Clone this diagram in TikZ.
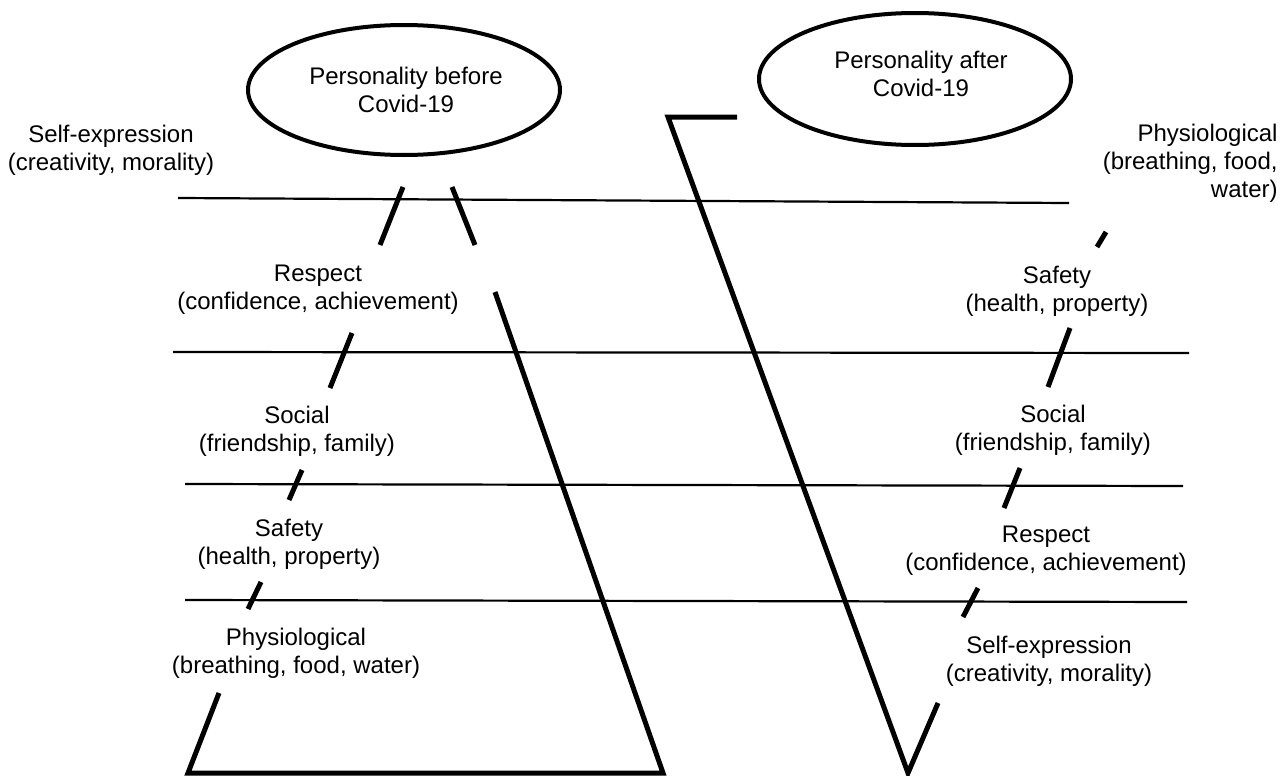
\documentclass[tikz,border=0pt]{standalone}
\usepackage{fontspec}
\setmainfont{Liberation Sans}
\usetikzlibrary{shapes.geometric}
\begin{document}
\begin{tikzpicture}[x=0.5pt,y=-0.5pt,
  lbl/.style={align=center, font=\fontsize{12}{14}\selectfont, inner sep=0pt},
  hline/.style={line width=1.1pt},
  bold/.style={line width=2.5pt},
  oval/.style={draw, ellipse, line width=2pt, inner sep=0pt}]
\useasboundingbox (0,0) rectangle (1281,776);

% ellipses
\node[oval, minimum width=156pt, minimum height=65pt] (eb) at (404,90) {};
\node[lbl] (tb) at (406,89.5) {Personality before\\Covid-19};
\node[oval, minimum width=156pt, minimum height=66pt] (ea) at (915,79) {};
\node[lbl] (ta) at (921,74) {Personality after\\Covid-19};

% horizontal lines
\draw[hline] (178,198) -- (1069,203);
\draw[hline] (173,352) -- (1189,353);
\draw[hline] (185,484) -- (1183,486);
\draw[hline] (185,600) -- (1187,602);

% left trapezoid
\draw[bold, line join=miter] (219,693) -- (188,773) -- (663,773) -- (495,292);
\draw[bold] (248,609) -- (261,582);
\draw[bold] (289,500) -- (302,470);
\draw[bold] (330,388) -- (352,333);
\draw[bold] (380,245) -- (403,187);
\draw[bold] (452,187) -- (475,245);

% right inverted triangle
\draw[bold, line join=miter] (737,117) -- (668,117) -- (908,773) -- (938,703);
\draw[bold] (963,617) -- (978,588);
\draw[bold] (1004,508) -- (1020,468);
\draw[bold] (1048,387) -- (1070,328);
\draw[bold] (1097,247) -- (1106,232);

% left labels
\node[lbl] (l1) at (111,150) {Self-expression\\(creativity, morality)};
\node[lbl] (l2) at (318,290) {Respect\\(confidence, achievement)};
\node[lbl] (l3) at (297,431) {Social\\(friendship, family)};
\node[lbl] (l4) at (289,544) {Safety\\(health, property)};
\node[lbl] (l5) at (296,653) {Physiological\\(breathing, food, water)};

% right labels
\node[lbl, align=right, anchor=east] (r1) at (1278,163) {Physiological\\(breathing, food,\\water)};
\node[lbl] (r2) at (1057,291) {Safety\\(health, property)};
\node[lbl] (r3) at (1053,430) {Social\\(friendship, family)};
\node[lbl] (r4) at (1046,551) {Respect\\(confidence, achievement)};
\node[lbl] (r5) at (1049,661) {Self-expression\\(creativity, morality)};
\end{tikzpicture}
\end{document}
